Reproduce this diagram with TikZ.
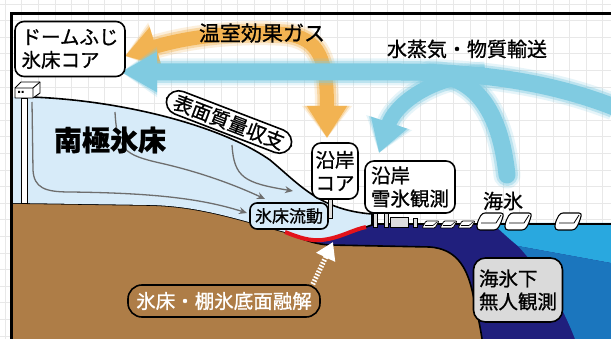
\documentclass[tikz,border=0pt]{standalone}
\usepackage{fontspec}
\setmainfont{Noto Sans CJK JP}[FakeBold=0.9]
\usetikzlibrary{arrows.meta,calc}

\definecolor{icefill}{HTML}{D7EBF9}
\definecolor{rock}{HTML}{AE7D47}
\definecolor{shelfsea}{HTML}{201F7D}
\definecolor{surfsea}{HTML}{29A8DF}
\definecolor{deepsea}{HTML}{1B76BE}
\definecolor{ghg}{HTML}{F2B352}
\definecolor{vapour}{HTML}{80CBE1}
\definecolor{melt}{HTML}{E3131B}
\definecolor{gridgrey}{HTML}{E8E8E8}
\definecolor{flowgrey}{HTML}{6E6E6E}
\definecolor{boxgrey}{HTML}{DADADA}
\definecolor{riggrey}{HTML}{DDDDDD}

\tikzset{
  lbl/.style={font=\fontsize{19.5}{23}\selectfont, align=left, inner sep=4pt},
  toplbl/.style={font=\fontsize{20}{24}\selectfont, inner sep=1pt},
  tag/.style={lbl, draw=black, line width=1.6pt, rounded corners=9pt, fill=white},
  flow/.style={draw=flowgrey, line width=1.3pt, -{Stealth[length=8pt,width=7pt]}},
  rig/.style={draw=black, line width=0.9pt, fill=white},
  outline/.style={draw=black, line width=1.6pt},
}

\begin{document}
\begin{tikzpicture}[x=1pt,y=-1pt]
\useasboundingbox (0,0) rectangle (611,339);
\fill[white] (0,0) rectangle (611,339);

% squared paper
\foreach \g in {0,...,37} {
  \draw[gridgrey, line width=0.6pt] (5+\g*16.6,0) -- (5+\g*16.6,339);
}
\foreach \g in {0,...,20} {
  \draw[gridgrey, line width=0.6pt] (0,4+\g*16.6) -- (611,4+\g*16.6);
}

% ---- ocean ----
\fill[shelfsea] (290,224) rectangle (611,339);
\fill[surfsea] (493,223) -- (611,223) -- (611,263) -- (518,246)
  .. controls (508,238) and (500,230) .. (493,224) -- cycle;
\fill[deepsea] (518,246) -- (611,263) -- (611,339) -- (575,339)
  .. controls (560,300) and (540,270) .. (518,246) -- cycle;
\draw[black, line width=1.1pt] (372,224) -- (611,224);

% ---- bedrock ----
\fill[rock] (13,203) -- (150,205) .. controls (200,206) and (240,220) .. (285,232)
  .. controls (300,238) and (312,244) .. (330,245) -- (430,247)
  .. controls (455,249) and (466,265) .. (472,290)
  .. controls (477,312) and (480,325) .. (482,339) -- (13,339) -- cycle;
\draw[outline] (13,203) -- (150,205) .. controls (200,206) and (240,220) .. (285,232)
  .. controls (300,238) and (312,244) .. (330,245) -- (430,247)
  .. controls (455,249) and (466,265) .. (472,290)
  .. controls (477,312) and (480,325) .. (482,339);

% ---- ice sheet and shelf ----
\fill[icefill] (13,97) -- (30,97) .. controls (120,100) and (220,125) .. (270,160)
  .. controls (300,185) and (320,210) .. (372,214) -- (372,225) -- (366,227)
  .. controls (352,230) and (340,238) .. (322,240)
  .. controls (310,241) and (300,238) .. (285,232)
  .. controls (240,220) and (200,206) .. (150,205) -- (13,203) -- cycle;
\draw[outline] (30,97) .. controls (120,100) and (220,125) .. (270,160)
  .. controls (300,185) and (320,210) .. (372,214) -- (372,225) -- (366,227);

% basal melting zone
\draw[melt, line width=4pt] (285,232) .. controls (300,238) and (310,241) .. (322,240)
  .. controls (340,238) and (352,230) .. (366,227);

% ---- ice flow lines ----
\draw[flow] (32,102) -- (33,170) .. controls (34,188) and (45,192) .. (70,192)
  .. controls (150,193) and (200,198) .. (247,213);
\draw[flow] (115,112) .. controls (117,150) and (125,155) .. (160,163)
  .. controls (200,172) and (235,185) .. (265,199);
\draw[flow] (232,145) .. controls (234,178) and (245,183) .. (293,191);

% ---- Dome Fuji station ----
\draw[rig] (21.5,98) rectangle (27.5,203);
\draw[rig, line join=round] (15,88) -- (21,82) -- (40,82) -- (40,93) -- (33,98) -- (15,98) -- cycle;
\draw[black, line width=0.9pt] (15,88) -- (33,88) -- (40,82) (33,88) -- (33,98);
\fill[black] (18,91) rectangle (20,93) (21.5,91) rectangle (23.5,93);

% ---- coastal stations ----
\draw[rig, fill=riggrey] (328,198) rectangle (332,218);
\draw[rig, fill=riggrey] (373,213) rectangle (377,227);
\draw[rig, fill=riggrey] (384,213) rectangle (388,227);
\draw[rig, fill=riggrey] (390,217) rectangle (408,227);
\draw[rig, fill=riggrey] (413,218) rectangle (417,227);

% ---- sea ice ----
\foreach \x in {422,440,458} {
  \draw[rig, line width=0.8pt, rounded corners=1pt] (\x+4,221) -- (\x+17,221) -- (\x+13,228) -- (\x,228) -- cycle;
  \draw[black, line width=0.6pt] (\x+3,225.5) -- (\x+11,225.5) -- (\x+15,222);
}
\foreach \x in {477,505,555} {
  \draw[rig, line width=1.1pt, rounded corners=3pt] (\x+5,213) -- (\x+27,213) -- (\x+24,223) -- (\x+20,230) -- (\x,230) -- (\x,223) -- cycle;
  \draw[black, line width=0.8pt] (\x+4,223) -- (\x+19,223) -- (\x+24,215);
}

% ---- greenhouse gas transport ----
\foreach \w/\o in {10/0.2, 5/0.4, 0/1} {
  \draw[ghg, opacity=\o, line width=14pt+\w pt,
    {Triangle[width=38pt+\w pt,length=32pt]}-{Triangle[width=38pt+\w pt,length=32pt]}]
    (125,56) .. controls (190,36) and (240,31) .. (285,34)
    .. controls (320,38) and (327,60) .. (327,138);
}

% ---- water vapour and material transport ----
\foreach \w/\o in {10/0.2, 5/0.4, 0/1} {
  \draw[vapour, opacity=\o, line width=17pt+\w pt, line cap=round]
    (430,74) .. controls (475,76) and (500,110) .. (507,175);
  \draw[vapour, opacity=\o, line width=15pt+\w pt, -{Triangle[width=36pt+\w pt,length=32pt]}]
    (485,74) .. controls (430,76) and (395,105) .. (379,153);
  \draw[vapour, opacity=\o, line width=17pt+\w pt, -{Triangle[width=38pt+\w pt,length=36pt]}]
    (614,107) .. controls (550,82) and (480,72) .. (400,72) -- (121,72);
}

% ---- labels ----
\node[toplbl, font=\fontsize{21}{24}\selectfont] (ghglbl) at (262,33) {温室効果ガス};
\node[toplbl] (vaplbl) at (467,49) {水蒸気・物質輸送};
\node[font=\fontsize{28}{30}\selectfont\bfseries, inner sep=0pt] (aislbl) at (110,140) {南極氷床};
\node[toplbl] (seaicelbl) at (503,201) {海氷};

\node[tag, minimum width=110pt, minimum height=55pt] (dome) at (70,49) {ドームふじ\\氷床コア};
\node[tag, rotate=-21, rounded corners=13pt, inner xsep=8pt, inner ysep=3pt] (smb) at (229,122) {表面質量収支};
\node[tag, minimum width=46pt, minimum height=56pt, inner sep=2pt] (ccore) at (335,171) {沿岸\\コア};
\node[tag, minimum width=90pt, minimum height=52pt, inner sep=2pt] (cobs) at (410,187) {沿岸\\雪氷観測};
\node[tag, fill=icefill, font=\fontsize{17}{20}\selectfont, inner sep=2pt, rounded corners=7pt,
  minimum width=78pt, minimum height=26pt] (flowbox) at (289,216) {氷床流動};
\node[tag, fill=rock, text=white, minimum width=192pt, minimum height=32pt, rounded corners=14pt]
  (meltbox) at (224,301) {氷床・棚氷底面融解};
\node[tag, fill=boxgrey, minimum width=89pt, minimum height=64pt, rounded corners=12pt]
  (auv) at (518,290) {海氷下\\無人観測};

% upward heat towards the ice base
\coordinate (meltup) at (333,242);
\draw[white, line width=5pt, dash pattern=on 1.6pt off 1.6pt,
  -{Triangle[width=20pt,length=17pt]}] (meltbox.north east) ++(-8,0) -- (meltup);

% frame
\draw[black, line width=3pt] (11.5,339) -- (11.5,13.5) -- (611,13.5);
\end{tikzpicture}
\end{document}
